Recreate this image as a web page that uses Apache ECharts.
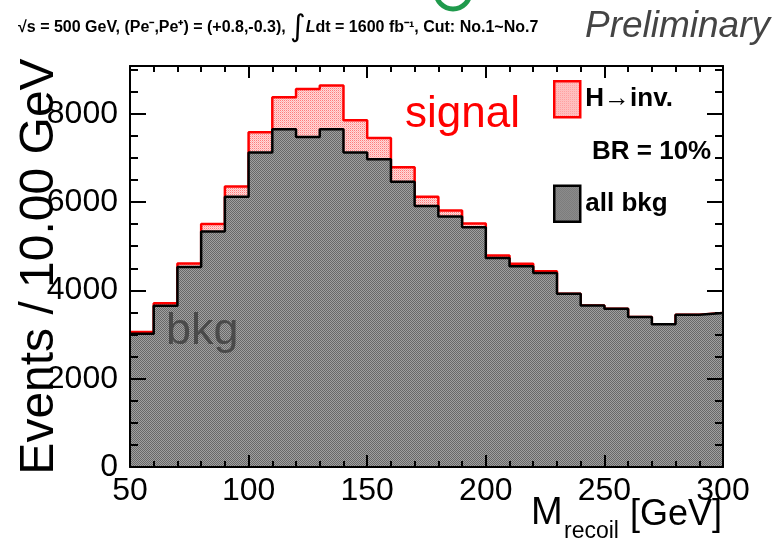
<!DOCTYPE html>
<html>
<head>
<meta charset="utf-8">
<script src="https://cdn.jsdelivr.net/npm/echarts@6/dist/echarts.min.js"></script>
<style>
html,body{margin:0;padding:0;background:#fff;}
#chart{width:782px;height:550px;}
</style>
</head>
<body>
<div id="chart"></div>
<script>
// Bin lower edges (GeV), 10 GeV bins
var binEdges = [50,60,70,80,90,100,110,120,130,140,150,160,170,180,190,200,210,220,230,240,250,260,270,280,290];
var binUpper = 300;
// all background, events per bin
var bkgValues = [3015,3650,4530,5330,6120,7120,7650,7470,7650,7120,6970,6460,5910,5670,5430,4730,4545,4390,3925,3655,3585,3395,3230,3450,3485];
// H->inv signal (BR = 10%), stacked on background
var sigValues = [40,60,80,170,230,460,720,1090,990,730,480,330,210,140,85,60,60,40,0,0,0,0,0,0,0];
var yMajorTicks = [0,2000,4000,6000,8000];
var yMax = 9080;

var totalValues = bkgValues.map(function(v,i){ return v + sigValues[i]; });
function histPoints(vals){
  var pts = binEdges.map(function(x,i){ return [x, vals[i]]; });
  pts.push([binUpper, vals[vals.length-1]]);
  return pts;
}
function makePattern(colors, w, h){
  var c = document.createElement('canvas'); c.width = w; c.height = h;
  var ctx = c.getContext('2d');
  for (var y=0;y<h;y++) for (var x=0;x<w;x++){ ctx.fillStyle = colors[y*w+x]; ctx.fillRect(x,y,1,1); }
  return {image: c, repeat: 'repeat'};
}
var grayFill = makePattern(['#686868','#a0a0a0','#a0a0a0','#686868'],2,2);
var pinkFill = makePattern(['#ff7a7a','#ffdada','#ffdada','#ffb0b0'],2,2);

var chart = echarts.init(document.getElementById('chart'), null, {renderer:'canvas'});
var FONT = 'Liberation Sans, Arial, Helvetica, sans-serif';
var NARROW = 'Liberation Sans Narrow, Arial Narrow, ' + FONT;
var axisLineStyle = {color:'#000', width:2};
function yAxisDef(pos, minorAxis, showLabels){
  var ax = {
    type:'value', position:pos, min:0, max:yMax, z:10,
    axisLine:{show:true, lineStyle:axisLineStyle, onZero:false},
    splitLine:{show:false},
    axisLabel:{show:false}
  };
  if (minorAxis){
    ax.interval = 500;
    ax.axisTick = {show:true, inside:true, length:8, lineStyle:{color:'#000', width:2}};
  } else {
    ax.interval = 2000;
    ax.axisTick = {show:true, inside:true, length:16, customValues: yMajorTicks, lineStyle:{color:'#000', width:2}};
  }
  if (showLabels){
    ax.axisLabel = {show:true, customValues: yMajorTicks, margin:12, color:'#000', fontSize:32, fontFamily:FONT,
      formatter:function(v){ return String(v); }};
    ax.name = 'Events / 10.00 GeV';
    ax.nameLocation = 'middle';
    ax.nameRotate = 90;
    ax.nameGap = 66;
    ax.nameMoveOverlap = false;
    ax.nameTextStyle = {fontSize:48, fontFamily:FONT, color:'#000'};
  }
  return ax;
}
function xAxisDef(pos, showLabels){
  return {
    type:'value', position:pos, min:50, max:300, interval:50, z:10,
    axisLine:{show:true, lineStyle:axisLineStyle, onZero:false},
    axisTick:{show:true, inside:true, length:12, lineStyle:{color:'#000', width:2}},
    minorTick:{show:true, splitNumber:5, length:6, lineStyle:{color:'#000', width:2}},
    splitLine:{show:false}, minorSplitLine:{show:false},
    axisLabel:{show:showLabels, margin:8, color:'#000', fontSize:32, fontFamily:FONT,
      formatter:function(v){ return String(v); }}
  };
}
var option = {
  backgroundColor:'#fff',
  animation:false,
  grid:{left:130, right:59, top:66, bottom:83, containLabel:false, outerBoundsMode:'none'},
  xAxis:[xAxisDef('bottom', true), xAxisDef('top', false)],
  yAxis:[yAxisDef('left', true, true), yAxisDef('left', false, false), yAxisDef('right', true, false), yAxisDef('right', false, false)],
  legend:{
    show:true, orient:'vertical', left:553, top:80, itemWidth:26, itemHeight:36, itemGap:66, padding:0,
    selectedMode:false,
    textStyle:{fontSize:26, fontWeight:'bold', fontFamily:FONT, color:'#000'},
    data:[
      {name:'H\u2192inv.', icon:'rect', itemStyle:{color:pinkFill, borderColor:'#ff0000', borderWidth:2.5}},
      {name:'all bkg', icon:'rect', itemStyle:{color:grayFill, borderColor:'#000', borderWidth:2.5}}
    ]
  },
  series:[
    {
      name:'all bkg', type:'line', step:'end', z:4, symbol:'none',
      xAxisIndex:0, yAxisIndex:0,
      data: histPoints(bkgValues),
      lineStyle:{color:'#000', width:2.5},
      itemStyle:{color:'#888'},
      areaStyle:{color:grayFill, opacity:1, origin:'start'}
    },
    {
      name:'H\u2192inv.', type:'line', step:'end', z:3, symbol:'none',
      xAxisIndex:0, yAxisIndex:0,
      data: histPoints(totalValues),
      lineStyle:{color:'#ff0000', width:2.5},
      itemStyle:{color:'#ff9999'},
      areaStyle:{color:pinkFill, opacity:1, origin:'start'}
    }
  ],
  graphic:[
    {type:'circle', shape:{cx:453, cy:-8, r:17}, style:{fill:'none', stroke:'#1f9a4c', lineWidth:5}, z:20},
    {type:'text', left:18, top:13, z:20, style:{
      text:'{b|\u221As = 500 GeV, (Pe\u207B,Pe\u207A) = (+0.8,-0.3), }{i|\u222B}{l|L}{b|dt = 1600 fb\u207B\u00B9, Cut: No.1~No.7}',
      rich:{
        b:{fontSize:16, fontWeight:'bold', fontFamily:NARROW, fill:'#000'},
        l:{fontSize:16, fontWeight:'bold', fontStyle:'italic', fontFamily:NARROW, fill:'#000'},
        i:{fontSize:30, fontFamily:'DejaVu Sans, '+FONT, fill:'#000'}
      }
    }},
    {type:'text', z:20, style:{x:770, y:27, text:'Preliminary', textAlign:'right', textVerticalAlign:'middle', fontSize:37, fontStyle:'italic', fontFamily:FONT, fill:'#444'}},
    {type:'text', z:20, style:{x:405, y:115, text:'signal', textAlign:'left', textVerticalAlign:'middle', fontSize:44, fontFamily:FONT, fill:'#ff0000'}},
    {type:'text', z:20, style:{x:166, y:332, text:'bkg', textAlign:'left', textVerticalAlign:'middle', fontSize:45, fontFamily:FONT, fill:'#4a4a4a'}},
    {type:'text', z:20, style:{x:592, y:152, text:'BR = 10%', textAlign:'left', textVerticalAlign:'middle', fontSize:26, fontWeight:'bold', fontFamily:FONT, fill:'#000'}},
    {type:'text', z:20, style:{x:722, y:533, text:'[GeV]', textAlign:'right', textVerticalAlign:'bottom', fontSize:36, fontFamily:FONT, fill:'#000'}},
    {type:'text', z:20, style:{x:564, y:543, text:'recoil', textAlign:'left', textVerticalAlign:'bottom', fontSize:23, fontFamily:FONT, fill:'#000'}},
    {type:'text', z:20, style:{x:531, y:533, text:'M', textAlign:'left', textVerticalAlign:'bottom', fontSize:38, fontFamily:FONT, fill:'#000'}}
  ]
};
option.yAxis[1].axisLine.show = false;
option.yAxis[3].axisLine.show = false;
chart.setOption(option);
</script>
</body>
</html>
